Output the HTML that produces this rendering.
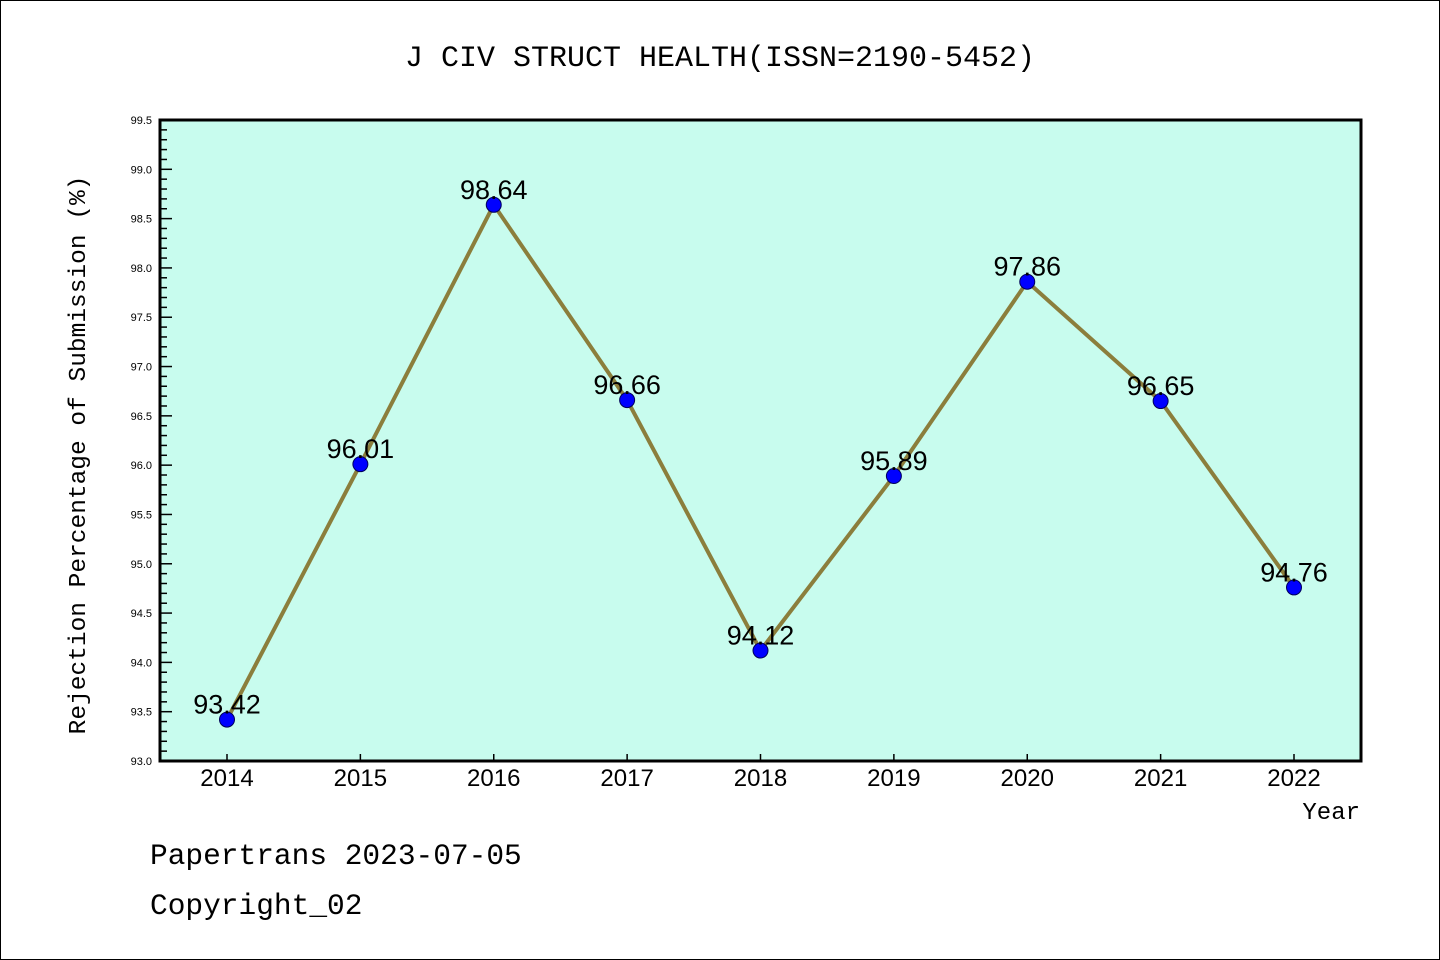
<!DOCTYPE html>
<html><head><meta charset="utf-8"><style>
body{margin:0;background:#fff;}
svg{display:block;font-family:"Liberation Mono","DejaVu Sans Mono",monospace;}
</style></head><body>
<svg id="c" width="1440" height="960">
<rect x="0.5" y="0.5" width="1439" height="959" fill="#fff" stroke="#000"/>
<text x="720" y="66" text-anchor="middle" font-size="30">J CIV STRUCT HEALTH(ISSN=2190-5452)</text>
<rect x="160" y="120" width="1201" height="641" fill="#c8fcee"/>
<g id="axes"></g>
<g id="marks"></g>
<rect x="160" y="120" width="1201" height="641" fill="none" stroke="#000" stroke-width="3"/>
<text transform="translate(85,455) rotate(-90)" text-anchor="middle" font-size="24.5">Rejection Percentage of Submission (%)</text>
<text x="1360" y="819" text-anchor="end" font-size="24">Year</text>
<text x="150" y="864" font-size="29.5">Papertrans 2023-07-05</text>
<text x="150" y="914" font-size="29.5">Copyright_02</text>
</svg>
<script>
const years=["2014","2015","2016","2017","2018","2019","2020","2021","2022"];
const values=[93.42,96.01,98.64,96.66,94.12,95.89,97.86,96.65,94.76];
const yTicks=["93.0","93.5","94.0","94.5","95.0","95.5","96.0","96.5","97.0","97.5","98.0","98.5","99.0","99.5"];
const NS="http://www.w3.org/2000/svg";
const yMin=93,yMax=99.5,plotTop=120,plotBot=761;
const y=v=>plotBot-(v-yMin)/(yMax-yMin)*(plotBot-plotTop);
const x=i=>227+i*(1294-227)/(years.length-1);
function mk(t,a,p){const e=document.createElementNS(NS,t);for(const k in a)e.setAttribute(k,a[k]);p.appendChild(e);return e;}
const ax=document.getElementById('axes'),mg=document.getElementById('marks');
for(let k=0;k<=Math.round((yMax-yMin)*10);k++){const v=yMin+k/10,maj=k%5===0;
const l=mk('line',{x1:160,x2:160+(maj?12:7),y1:y(v),y2:y(v),stroke:'#000','stroke-width':1.5},ax);

}
yTicks.forEach(s=>{const t=mk('text',{x:152,y:y(+s)+4,'text-anchor':'end','font-size':11,'font-family':'Liberation Sans,sans-serif'},ax);t.textContent=s;

});
years.forEach((s,i)=>{const l=mk('line',{x1:x(i),x2:x(i),y1:plotBot,y2:plotBot-7,stroke:'#000','stroke-width':1.5},ax);


const t=mk('text',{x:x(i),y:786,'text-anchor':'middle','font-size':24,'font-family':'Liberation Sans,sans-serif'},ax);t.textContent=s;

});
const pl=mk('polyline',{points:values.map((v,i)=>x(i)+','+y(v)).join(' '),fill:'none',stroke:'#8b7e3c','stroke-width':4},mg);


values.forEach((v,i)=>{const c=mk('circle',{cx:x(i),cy:y(v),r:7.5,fill:'#0000ff',stroke:'#00005a','stroke-width':1},mg);


const t=mk('text',{x:x(i),y:y(v)-6,'text-anchor':'middle','font-size':27,'font-family':'Liberation Sans,sans-serif'},mg);t.textContent=v.toFixed(2);

});
</script>
</body></html>
